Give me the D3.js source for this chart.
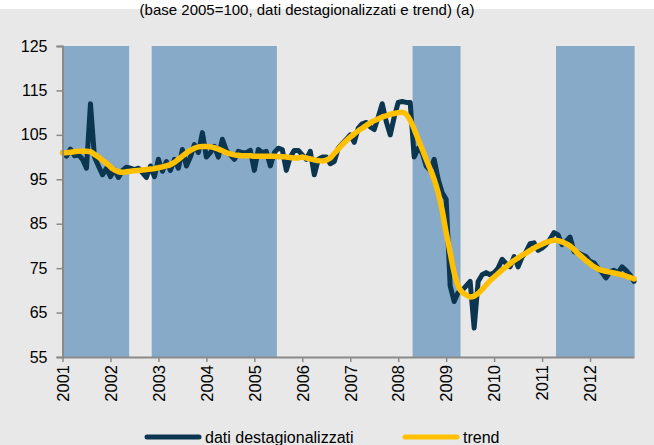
<!DOCTYPE html>
<html>
<head>
<meta charset="utf-8">
<script src="https://cdn.jsdelivr.net/npm/d3@7"></script>
<style>
  body { margin: 0; background: #fff; }
  text { font-family: 'Liberation Sans', Arial, sans-serif; }
</style>
</head>
<body>
<div id="chart"></div>
<script>
// monthly values, Jan 2001 - Dec 2012
const years = d3.range(2001, 2013)
const seasonal = [
  101, 100.2, 101.8, 100.3, 100.5, 99.5, 97.5, 112, 100, 98, 96, 97.5,
  95.6, 97.2, 95.4, 97, 97.7, 97.5, 97.2, 97.5, 96.5, 95.4, 98, 95.6,
  99.5, 96.8, 99, 97, 99.5, 97.5, 101.7, 98, 100, 102.8, 101, 105.5,
  100, 101, 102.4, 100, 104, 101.5, 100.5, 99.5, 101.3, 101, 101, 101.5,
  97, 101.7, 101, 101.3, 98, 101, 102, 101.7, 97, 100, 101.5, 101.5,
  100.5, 99.5, 101.3, 96, 99.5, 100, 100, 98.5, 99, 102, 103, 104,
  105, 103.3, 106.5, 107.5, 107.8, 106.8, 106.2, 109, 112, 108, 105, 109,
  112.3, 112.5, 112.3, 112.3, 100, 102, 101, 98, 97, 99.5, 95, 92,
  90.5, 71, 67.5, 69.5, 70, 71, 72, 61.5, 72, 73.5, 74, 73.5,
  74, 75, 77, 76, 75.3, 77.6, 75.3, 77.5, 78.7, 80.5, 80.7, 79,
  79.5, 80.3, 81.5, 83, 82.5, 80.3, 81, 82, 78.7, 78.5, 78, 77.6,
  76.5, 76.2, 75, 74, 72.8, 74.2, 74.5, 74, 75.3, 74.5, 73.5, 72
]
const trend = [
  101, 101, 101.1, 101.2, 101.3, 101.3, 101.3, 101.2, 100.6, 100, 99.3, 98.6,
  97.8, 97.1, 96.7, 96.6, 96.7, 96.8, 96.9, 97, 97.1, 97.2, 97.3, 97.4,
  97.6, 97.8, 98, 98.3, 98.8, 99.5, 100.2, 100.9, 101.5, 102, 102.3, 102.4,
  102.4, 102.3, 102.1, 101.8, 101.4, 101, 100.7, 100.5, 100.4, 100.3, 100.3, 100.3,
  100.2, 100.2, 100.2, 100.2, 100.2, 100.2, 100.1, 100.1, 100, 99.9, 99.8, 99.8,
  100, 99.8, 99.6, 99.4, 99.2, 99.1, 99.3, 99.8, 100.8, 101.8, 102.8, 103.7,
  104.5, 105.2, 105.9, 106.5, 107.1, 107.7, 108.2, 108.6, 109, 109.3, 109.6, 109.8,
  110, 110.1, 109.6, 108.3, 106.3, 104, 101.8, 99.5, 97.3, 95, 92, 88,
  83, 78.5, 74, 71, 69.6, 69, 68.5, 68.7, 69.3, 70.2, 71.2, 72.2,
  73, 73.8, 74.6, 75.3, 76, 76.7, 77.3, 77.9, 78.4, 79, 79.5, 80,
  80.4, 80.8, 81.1, 81.3, 81.2, 80.9, 80.5, 80, 79.2, 78.3, 77.5, 76.7,
  76, 75.3, 74.8, 74.5, 74.3, 74.1, 73.9, 73.7, 73.5, 73.2, 72.9, 72.6
]
// shaded periods (fractional years)
const shadeStart = [2001, 2002.86, 2008.3, 2011.29]
const shadeEnd = [2002.39, 2005.47, 2009.3, 2012.93]
const yTicks = [55, 65, 75, 85, 95, 105, 115, 125]
const seriesNames = ['dati destagionalizzati', 'trend']
const colors = ['#0c3550', '#ffc000']

const width = 654
const height = 445
const margin = { top: 46, right: 20, bottom: 88, left: 62.5 }

const svg = d3.select('#chart')
  .append('svg')
  .attr('width', width)
  .attr('height', height)

svg.append('rect').attr('x', 0).attr('y', 9).attr('width', width).attr('height', height - 9).attr('fill', '#e8e8e8')

// title, mostly cut off at the top of the picture
svg.append('text')
  .attr('x', 307)
  .attr('y', 15)
  .attr('text-anchor', 'middle')
  .style('font-size', '15px')
  .text('(base 2005=100, dati destagionalizzati e trend) (a)')

const months = seasonal.map((d, i) => 2001 + i / 12)

const x = d3.scaleLinear().domain([2001, 2012 + 11 / 12]).range([margin.left, 634])
const y = d3.scaleLinear().domain([55, 125]).range([357, margin.top])

svg.selectAll('.shade')
  .data(shadeStart)
  .enter()
  .append('rect')
  .attr('class', 'shade')
  .attr('x', (d) => x(d))
  .attr('y', y(125))
  .attr('width', (d, i) => x(shadeEnd[i]) - x(d))
  .attr('height', y(55) - y(125))
  .attr('fill', '#87aac8')

const line = d3.line()
  .x((d, i) => x(months[i]))
  .y((d) => y(d))

svg.append('path')
  .datum(seasonal)
  .attr('d', line)
  .attr('fill', 'none')
  .attr('stroke', colors[0])
  .attr('stroke-width', 5)
  .attr('stroke-linejoin', 'round')
  .attr('stroke-linecap', 'round')

svg.append('path')
  .datum(trend)
  .attr('d', line.curve(d3.curveMonotoneX))
  .attr('fill', 'none')
  .attr('stroke', colors[1])
  .attr('stroke-width', 5.5)
  .attr('stroke-linejoin', 'round')
  .attr('stroke-linecap', 'round')

// axes
const yAxis = svg.append('g')
  .attr('transform', `translate(${margin.left}, 0)`)
  .call(d3.axisLeft(y).tickValues(yTicks).tickSize(6).tickPadding(9))
yAxis.select('.domain').attr('stroke', '#8a8a8a').attr('stroke-width', 2)
yAxis.selectAll('.tick line').attr('stroke', '#8a8a8a').attr('stroke-width', 1.5)
yAxis.selectAll('.tick text').style('font-size', '16px').attr('fill', '#000')
  .style('font-family', "'Liberation Sans', Arial, sans-serif")

const xAxis = svg.append('g')
  .attr('transform', `translate(0, ${y(55)})`)
  .call(d3.axisBottom(x).tickValues(years).tickFormat(d3.format('d')).tickSize(5).tickSizeOuter(0))
xAxis.select('.domain').attr('stroke', '#8a8a8a').attr('stroke-width', 2)
xAxis.selectAll('.tick line').attr('stroke', '#8a8a8a').attr('stroke-width', 1.5)
xAxis.selectAll('.tick text')
  .style('font-size', '16.5px')
  .style('font-family', "'Liberation Sans', Arial, sans-serif")
  .attr('fill', '#000')
  .attr('text-anchor', 'end')
  .attr('transform', 'rotate(-90)')
  .attr('x', -8)
  .attr('y', 0)
  .attr('dy', '0.35em')

// legend
const legendX = [147, 405]
const legend = svg.selectAll('.legend')
  .data(seriesNames)
  .enter()
  .append('g')
  .attr('class', 'legend')
  .attr('transform', (d, i) => `translate(${legendX[i]}, 437)`)
legend.append('line')
  .attr('x1', 0).attr('x2', 52)
  .attr('y1', 0).attr('y2', 0)
  .attr('stroke', (d, i) => colors[i])
  .attr('stroke-width', 5)
  .attr('stroke-linecap', 'round')
legend.append('text')
  .attr('x', 58)
  .attr('y', 6)
  .style('font-size', '16px')
  .text((d) => d)
</script>
</body>
</html>
